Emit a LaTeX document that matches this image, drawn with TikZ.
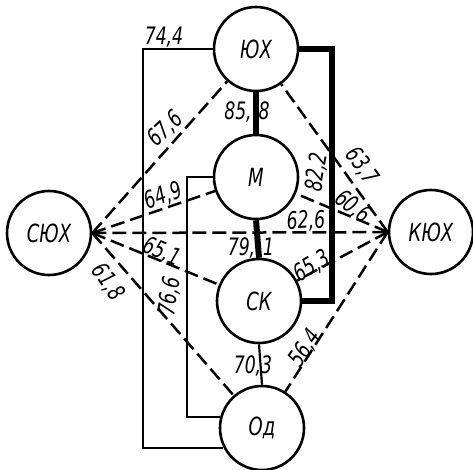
\documentclass[tikz,border=0pt]{standalone}
\usepackage{fontspec}
\setmainfont{DejaVu Sans}[FakeStretch=0.72]
\usetikzlibrary{calc}
\tikzset{
  unit/.style={circle, draw, line width=2.6pt, minimum size=84pt, inner sep=0pt,
    font=\fontsize{25}{27}\selectfont\itshape},
  link/.style={line width=2.2pt},
  heavy/.style={line width=6pt},
  alt/.style={line width=2.5pt, dash pattern=on 14pt off 6pt},
  val/.style={font=\fontsize{24}{26}\selectfont\itshape, inner sep=0pt},
}

\begin{document}
\begin{tikzpicture}[x=1pt, y=-1pt]
  \useasboundingbox (0,0) rectangle (473,469);
  % ── units ─────────────────────────────────────────────────────────
  \node[unit] (yukh)  at (256,49)  {ЮХ};
  \node[unit] (m)     at (256,177) {М};
  \node[unit] (sk)    at (259,301) {СК};
  \node[unit] (od)    at (262,428) {Од};
  \node[unit] (syukh) at (49,233)  {СЮХ};
  \node[unit] (kyukh) at (431,232) {КЮХ};
  % ── dashed links (fan from СЮХ and КЮХ) ──────────────────────────
  \foreach \n in {yukh,m,sk,od,kyukh}
    \draw[alt] (syukh.east) -- (\n);
  \foreach \n in {yukh,m,sk,od}
    \draw[alt] (kyukh.west) -- (\n);
  % ── solid links ───────────────────────────────────────────────────
  \draw[heavy] (yukh.south) -- (m.north);
  \draw[heavy] (m.south) -- (sk.north);
  \draw[link] (sk.south) -- (od.north);
  \coordinate (rbar) at (332,200);
  \draw[heavy] (yukh.east) -| (rbar) |- (sk.east);
  \coordinate (lout) at (143,300);
  \draw[link] (yukh.west) -| (lout) |- (od.207);
  \coordinate (lin) at (187,300);
  \draw[link] (m.west) -| (lin) |- (od.165);
  % ── values ────────────────────────────────────────────────────────
  \node[val] (v744) at (164,37) {74,4};
  \node[val] (v858) at (247,112) {85,\hspace{7pt}8};
  \node[val, rotate=43] (v676) at (165,129) {67,6};
  \node[val, rotate=20] (v649) at (163,196) {64,9};
  \node[val, rotate=-22] (v651) at (162,252) {65,1};
  \node[val, rotate=-55] (v618) at (108,282) {61,8};
  \node[val, rotate=80] (v766) at (170,296) {76,6};
  \node[val] (v791) at (251,248) {79,\hspace{8pt}1};
  \node[val, rotate=3] (v626) at (306,221) {62,6};
  \node[val, rotate=80] (v822) at (317,172) {82,2};
  \node[val, rotate=-54] (v637) at (362,166) {63,7};
  \node[val, rotate=-38] (v606) at (353,207) {60,6};
  \node[val, rotate=30] (v653) at (312,266) {65,3};
  \node[val, rotate=55] (v564) at (305,348) {56,4};
  \node[val] (v703) at (253,366) {70,3};
\end{tikzpicture}
\end{document}
